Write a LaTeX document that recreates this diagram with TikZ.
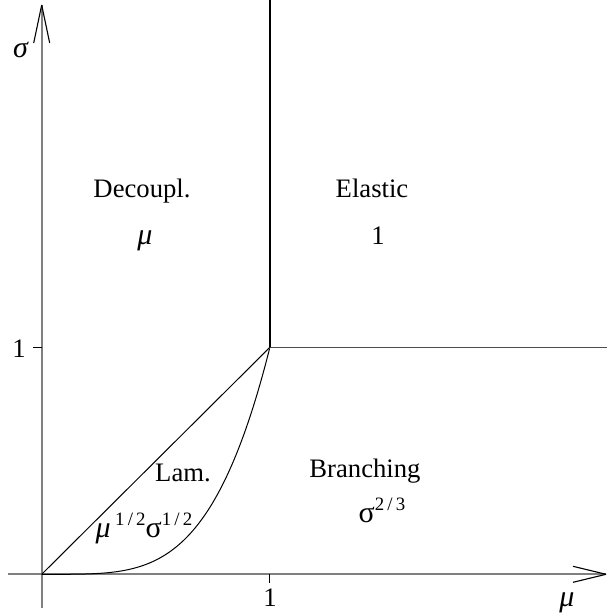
\documentclass[tikz,border=0pt]{standalone}
\usepackage{fontspec}
\setmainfont{Liberation Serif}
\newcommand{\mysup}[1]{\raisebox{0.42em}{\fontsize{8.5}{9}\selectfont #1}}
\newcommand{\gk}[1]{{\fontsize{13.5}{15}\selectfont #1}}
\begin{document}
\begin{tikzpicture}[x=0.45pt,y=-0.45pt,
  axisline/.style={draw=black!50, line width=0.75pt},
  barb/.style={draw=black, line width=0.5pt},
  bound/.style={draw=black, line width=0.45pt},
  ticklab/.style={font=\fontsize{12}{14}\selectfont, inner sep=0pt, anchor=base},
  reglab/.style={font=\fontsize{12}{14}\selectfont, inner sep=0pt, anchor=base}]
\useasboundingbox (0,0) rectangle (607,613);
% key points
\coordinate (O) at (41.7,574.3);
\coordinate (C) at (269.9,347.3);
\coordinate (xstart) at (8,574.3);
\coordinate (xtip) at (606,574.3);
\coordinate (ystart) at (41.7,608);
\coordinate (ytip) at (41.7,5);
\coordinate (vtop) at (269.9,0);
\coordinate (hright) at (607,347.3);
\coordinate (ytk) at (33,347.3);
\coordinate (xtk) at (269.9,583);
\coordinate (ytkO) at (41.7,347.3);
\coordinate (xtkO) at (269.9,574.3);
% axes
\draw[axisline] (xstart) -- (xtip);
\draw[axisline] (ystart) -- (ytip);
\draw[barb] (xtip) -- ++(-33,-8);
\draw[barb] (xtip) -- ++(-33,8);
\draw[barb] (ytip) -- ++(-8,38);
\draw[barb] (ytip) -- ++(8,38);
% ticks
\draw[bound] (ytk) -- (ytkO);
\draw[bound] (xtk) -- (xtkO);
% boundaries
\draw[draw=black, line width=0.6pt] (C) -- (vtop);
\draw[draw=black!70, line width=0.6pt] (C) -- (hright);
\draw[bound] (O) -- (C);
\draw[bound] plot[domain=0:1, samples=120, smooth] ({41.7+228.2*\x},{574.3-227*(\x)^4});
% axis labels
\node[ticklab] (sig) at (21,57) {\gk{\textit{σ}}};
\node[ticklab] (mu) at (567,606) {\gk{\textit{μ}}};
\node[ticklab] (one y) at (19,357) {1};
\node[ticklab] (one x) at (270,606) {1};
% regions
\node[reglab] (dec) at (142,197) {Decoupl.};
\node[reglab] (decf) at (145,244) {\gk{\textit{μ}}};
\node[reglab] (ela) at (372,197) {Elastic};
\node[reglab] (elaf) at (378,244) {1};
\node[reglab] (lam) at (183,481) {Lam.};
\node[reglab] (lamf) at (144,537) {\gk{\textit{μ}}\,\mysup{1\,/\,2}\gk{σ}\mysup{1\,/\,2}};
\node[reglab] (bra) at (365,477) {Branching};
\node[reglab] (braf) at (382,522) {\gk{σ}\mysup{2\,/\,3}};
\end{tikzpicture}
\end{document}
